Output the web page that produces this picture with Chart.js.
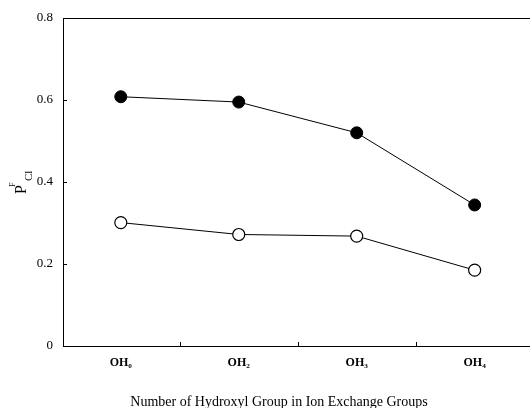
<!DOCTYPE html>
<html>
<head>
<meta charset="utf-8">
<script src="https://cdn.jsdelivr.net/npm/chart.js@4/dist/chart.umd.min.js"></script>
<style>
html,body{margin:0;padding:0;background:#fff;overflow:hidden;width:530px;height:408px;}
#wrap{position:absolute;left:0;top:0;width:542px;height:408px;}
</style>
</head>
<body>
<div id="wrap"><canvas id="c" width="542" height="408"></canvas></div>
<script>
const categories = ["OH\u2080", "OH\u2082", "OH\u2083", "OH\u2084"];
const filledSeries = [0.608, 0.595, 0.52, 0.344];
const openSeries = [0.301, 0.272, 0.268, 0.185];
const yTicks = [0, 0.2, 0.4, 0.6, 0.8];
const xTitle = "Number of Hydroxyl Group in Ion Exchange Groups";

const SERIF = '"Liberation Serif", "Times New Roman", "DejaVu Serif", serif';

const decor = {
  id: 'decor',
  afterDraw(chart) {
    const ctx = chart.ctx;
    const a = chart.chartArea;
    const ys = chart.scales.y, xs = chart.scales.x;
    ctx.save();
    ctx.strokeStyle = '#000';
    ctx.lineWidth = 1;
    ctx.beginPath();
    ctx.moveTo(a.left, Math.round(a.top) + 0.5);
    ctx.lineTo(chart.width, Math.round(a.top) + 0.5);
    ctx.stroke();
    yTicks.forEach(v => {
      const py = Math.round(ys.getPixelForValue(v)) + 0.5;
      ctx.beginPath();
      ctx.moveTo(a.left, py);
      ctx.lineTo(a.left + 4, py);
      ctx.stroke();
    });
    for (let i = 0; i < categories.length - 1; i++) {
      const px = Math.round(xs.getPixelForValue(i + 0.5)) + 0.5;
      ctx.beginPath();
      ctx.moveTo(px, a.bottom);
      ctx.lineTo(px, a.bottom - 4);
      ctx.stroke();
    }
    ctx.fillStyle = '#000';
    ctx.font = '14px ' + SERIF;
    ctx.textAlign = 'center';
    ctx.textBaseline = 'middle';
    ctx.fillText(xTitle, 279, 402);
    // y title P^F_Cl rotated
    ctx.translate(26, 190);
    ctx.rotate(-Math.PI / 2);
    ctx.textAlign = 'left';
    ctx.textBaseline = 'alphabetic';
    ctx.font = '16px ' + SERIF;
    ctx.fillText('P', -4, 0);
    ctx.font = '8px ' + SERIF;
    ctx.fillText('F', 3, -11);
    ctx.font = '11px ' + SERIF;
    ctx.fillText('Cl', 9, 6);
    ctx.restore();
  }
};

new Chart(document.getElementById('c'), {
  type: 'line',
  data: {
    datasets: [
      {
        data: filledSeries.map((v, i) => ({ x: i, y: v })),
        borderColor: '#000',
        borderWidth: 1,
        pointRadius: 6,
        pointBackgroundColor: '#000',
        pointBorderColor: '#000',
        pointBorderWidth: 1,
        tension: 0
      },
      {
        data: openSeries.map((v, i) => ({ x: i, y: v })),
        borderColor: '#000',
        borderWidth: 1,
        pointRadius: 6,
        pointBackgroundColor: '#fff',
        pointBorderColor: '#000',
        pointBorderWidth: 1.2,
        tension: 0
      }
    ]
  },
  options: {
    responsive: false,
    animation: false,
    devicePixelRatio: 1,
    layout: { padding: { top: 18, left: 0, right: 0, bottom: 0 } },
    plugins: { legend: { display: false }, tooltip: { enabled: false } },
    scales: {
      x: {
        type: 'linear',
        min: -0.49,
        max: 3.51,
        grid: { display: false, drawTicks: false },
        border: { display: true, color: '#000', width: 1 },
        afterBuildTicks(s) { s.ticks = categories.map((c, i) => ({ value: i })); },
        ticks: {
          color: '#000',
          padding: 10,
          font: { family: SERIF, size: 12, weight: 'bold' },
          maxRotation: 0,
          autoSkip: false,
          callback: (v) => categories[Math.round(v)]
        },
        afterFit(s) { s.height = 62; }
      },
      y: {
        min: 0,
        max: 0.8,
        grid: { display: false, drawTicks: false },
        border: { display: true, color: '#000', width: 1 },
        afterBuildTicks(s) { s.ticks = yTicks.map(v => ({ value: v })); },
        ticks: {
          color: '#000',
          padding: 10,
          font: { family: SERIF, size: 13 },
          callback: v => (v === 0 ? '0' : v.toFixed(1))
        },
        afterFit(s) { s.width = 63; }
      }
    }
  },
  plugins: [decor]
});
</script>
</body>
</html>
